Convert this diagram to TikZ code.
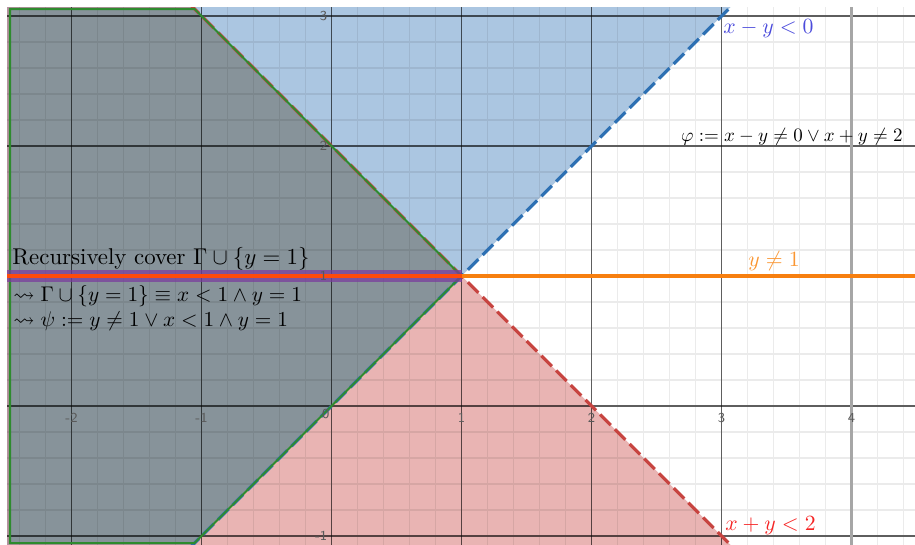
\documentclass[tikz,border=0pt]{standalone}
\usepackage{amsmath}
\usepackage{amssymb}
\usetikzlibrary{calc}
\usepackage{xcolor}
\definecolor{dblue}{HTML}{2D70B3}
\definecolor{dred}{HTML}{C74440}
\definecolor{dgreen}{HTML}{2E8B2E}
\definecolor{dorange}{HTML}{F77F0F}
\definecolor{dpurple}{HTML}{7A3E9E}
\definecolor{redorange}{HTML}{FF4A0A}
\definecolor{greyfill}{HTML}{87939A}
\definecolor{labblue}{HTML}{4B4BDB}
\definecolor{labred}{HTML}{F52424}
\definecolor{laborange}{HTML}{FA9632}

\begin{document}
\begin{tikzpicture}[
  x=2cm, y=2cm,
  region/.style={fill opacity=0.4},
  minor/.style={draw=black, draw opacity=0.08, line width=0.5pt},
  major/.style={draw=black, draw opacity=0.6, line width=0.5pt},
  bound/.style={line width=1.4pt, dash pattern=on 6.5pt off 2.6pt},
  ticklab/.style={font=\fontsize{6}{7}\selectfont\sffamily, text=black!65, inner sep=1pt},
  note/.style={anchor=base west, inner sep=0pt, font=\normalsize}
]
\useasboundingbox (-2.55,-1.069) rectangle (4.488,3.123);
\begin{scope}
\clip (-2.496,-1.069) rectangle (4.488,3.069);
\fill[dblue, region] (-2.6,-1.2) -- (-1.2,-1.2) -- (3.2,3.2) -- (-2.6,3.2) -- cycle;
\fill[dred, region] (-2.6,-1.2) -- (3.2,-1.2) -- (-1.2,3.2) -- (-2.6,3.2) -- cycle;
\fill[greyfill] (-2.473,3.054) -- (-1.054,3.054) -- (1,1) -- (-1.054,-1.054) -- (-2.473,-1.054) -- cycle;
\draw[minor, step=0.2] (-2.6,-1.2) grid (4.6,3.2);
\foreach \i in {-2,...,3} \draw[major] (\i,-1.2) -- (\i,3.2);
\foreach \j in {-1,...,3} \draw[major] (-2.6,\j) -- (4.6,\j);
\draw[black!35, line width=1.1pt] (4,-1.2) -- (4,3.2);
\draw[dblue, bound] (-1.1,-1.1) -- (3.2,3.2);
\draw[dred, bound] (-1.1,3.1) -- (1,1) -- (3.2,-1.2);
\draw[dgreen, line width=0.9pt] (-2.473,3.054) -- (-1.054,3.054) -- (1,1) -- (-1.054,-1.054) -- (-2.473,-1.054) -- cycle;
\draw[dpurple, opacity=0.75, line width=5.2pt] (-2.496,1) -- (1,1);
\draw[redorange, line width=1.8pt] (-2.496,1) -- (1,1);
\draw[dorange, line width=1.8pt] (1,1) -- (4.6,1);
\end{scope}
\foreach \i in {-2,-1,1,2,3,4} \node[ticklab] (xt\i) at (\i,-0.092) {\i};
\node[ticklab] (o) at (-0.045,-0.06) {0};
\foreach \j in {-1,1,2,3} \node[ticklab, anchor=east] (yt\j) at (-0.012,\j) {\j};
\node[note] (rec) at (-2.458,1.085) {Recursively cover $\Gamma\cup\{y=1\}$};
\node[note, scale=0.93] (equiv) at (-2.45,0.802) {$\rightsquigarrow\Gamma\cup\{y=1\}\equiv x<1\wedge y=1$};
\node[note, scale=0.93] (psi) at (-2.45,0.615) {$\rightsquigarrow\psi:=y\neq1\vee x<1\wedge y=1$};
\node[note, anchor=base east, scale=0.83] (phi) at (4.396,2.033) {$\varphi:=x-y\neq0\vee x+y\neq2$};
\node[note, scale=0.95, text=labblue] (xmy) at (3.011,2.869) {$x-y<0$};
\node[note, scale=0.95, text=laborange] (yne) at (3.204,1.072) {$y\neq1$};
\node[note, scale=0.95, text=labred] (xpy) at (3.027,-0.954) {$x+y<2$};
\end{tikzpicture}
\end{document}
